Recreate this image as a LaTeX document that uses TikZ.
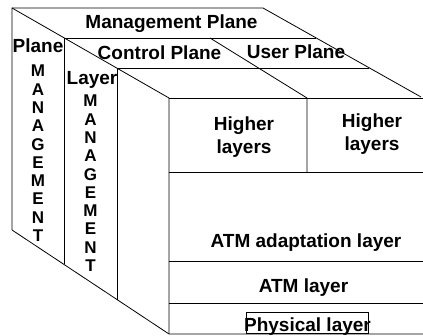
\documentclass[tikz,border=0pt]{standalone}
\usepackage{fontspec}
\setmainfont{Liberation Sans}
\usetikzlibrary{calc}
\definecolor{textprimary}{HTML}{000000}
\definecolor{border}{HTML}{000000}
\tikzset{
  base/.style={
    text=textprimary,
    font=\bfseries\fontsize{19}{23}\selectfont,
    align=center,
    inner sep=0pt,
  },
  plabel/.style={
    base,
    anchor=base,
  },
  vlabel/.style={
    base,
    font=\bfseries\fontsize{17}{18.3}\selectfont,
    anchor=north,
  },
  edge/.style={
    draw=border,
    line width=0.8pt,
    line join=miter,
  },
  hilite/.style={
    draw=border,
    line width=0.8pt,
    text height=19.5pt,
    text depth=1.5pt,
    inner xsep=-2.5pt,
  },
}

\begin{document}
\begin{tikzpicture}[x=1pt, y=-1pt]
\useasboundingbox (0,0) rectangle (423,336);

% === CORNERS of the cube ===

\coordinate (backtl) at (12,8);
\coordinate (backtr) at (263,8);
\coordinate (backbl) at (12,230);
\coordinate (fronttl) at (169,98);
\coordinate (fronttr) at (423,98);
\coordinate (frontbl) at (169,334);
\coordinate (frontbr) at (423,334);
\coordinate (sidecorner) at (421,97);

% === OUTLINE ===

\draw[edge] (backbl) -- (backtl) -- (backtr) -- (sidecorner);
\draw[edge] (backtl) -- (fronttl) -- (frontbl);
\draw[edge] (backbl) -- (frontbl) -- (frontbr);
\draw[edge] (fronttl) -- (fronttr);

% === TOP: planes ===

\coordinate (mgmtl) at (64,38);
\coordinate (mgmtr) at (316,38);
\coordinate (ctrll) at (117,68);
\coordinate (ctrlr) at (369,68);
\coordinate (usersplit) at (210,38);
\coordinate (frontsplit) at (307,98);

\draw[edge] (mgmtl) -- (mgmtr);
\draw[edge] (ctrll) -- (ctrlr);
\draw[edge] (usersplit) -- (frontsplit) -- (307,172);

% === SIDE: management columns ===

\draw[edge] (mgmtl) -- (64,264);
\draw[edge] (ctrll) -- (117,300);

% === FRONT: layers ===

\draw[edge] (169,172) -- (423,172);
\draw[edge] (169,261) -- (423,261);
\draw[edge] (169,303) -- (423,303);

% === LABELS ===

\node[plabel] (mgmtplane) at (171.5,28.5) {Management Plane};
\node[plabel] (ctrlplane) at (159.5,60) {Control Plane};
\node[plabel] (userplane) at (296,59) {User Plane};

\node[plabel] (planelbl) at (38,53) {Plane};
\node[vlabel] (planemgmt) at (38,65) {M\\A\\N\\A\\G\\E\\M\\E\\N\\T};
\node[plabel] (layerlbl) at (92,85) {Layer};
\node[vlabel] (layermgmt) at (90.5,95) {M\\A\\N\\A\\G\\E\\M\\E\\N\\T};

\node[base] (higherctrl) at (244,137) {Higher\\layers};
\node[base] (higheruser) at (372,134) {Higher\\layers};

\node[plabel] (aal) at (306,248) {ATM adaptation layer};
\node[plabel] (atm) at (303.5,293) {ATM layer};
\node[plabel, hilite] (phys) at (307.5,332) {Physical layer};

\end{tikzpicture}
\end{document}
